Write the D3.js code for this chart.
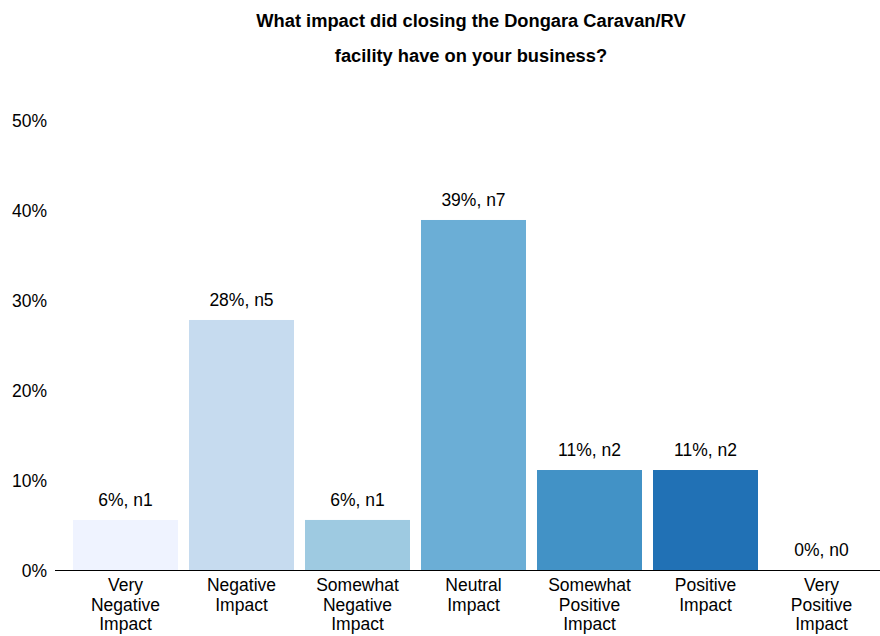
<!DOCTYPE html>
<html>
<head>
<meta charset="utf-8">
<script src="https://cdn.jsdelivr.net/npm/d3@7"></script>
<style>
  html, body { margin: 0; padding: 0; background: #fff; }
  svg { display: block; font-family: "Liberation Sans", Helvetica, Arial, sans-serif; }
</style>
</head>
<body>
<svg id="chart" width="880" height="636"></svg>
<script>
// Survey responses (n = 18)
const categories = [
  ["Very", "Negative", "Impact"],
  ["Negative", "Impact"],
  ["Somewhat", "Negative", "Impact"],
  ["Neutral", "Impact"],
  ["Somewhat", "Positive", "Impact"],
  ["Positive", "Impact"],
  ["Very", "Positive", "Impact"]
];
const counts = [1, 5, 1, 7, 2, 2, 0];
const percents = [5.56, 27.78, 5.56, 38.89, 11.11, 11.11, 0];
const colors = ["#eff3ff", "#c6dbef", "#9ecae1", "#6baed6", "#4292c6", "#2171b5", "#084594"];
const yTicks = [0, 10, 20, 30, 40, 50];
const titleLines = ["What impact did closing the Dongara Caravan/RV", "facility have on your business?"];

const svg = d3.select("#chart");
const W = 880, H = 636;
const baseY = 570, topY = 120;
const FONT = 17.5;

const keys = categories.map((c, i) => i);
const x = d3.scaleBand()
  .domain(keys)
  .range([67.5, 879.5])
  .paddingInner(11 / 116)
  .paddingOuter(5.5 / 116);

const y = d3.scaleLinear().domain([0, 50]).range([baseY, topY]);

// Title
svg.append("g")
  .selectAll("text")
  .data(titleLines)
  .join("text")
  .attr("x", 471)
  .attr("y", (d, i) => 26.5 + i * 35)
  .attr("text-anchor", "middle")
  .attr("font-size", 18.3)
  .attr("font-weight", "bold")
  .attr("fill", "#000")
  .text(d => d);

// Y axis labels
const yAxis = d3.axisLeft(y).tickValues(yTicks).tickSize(0).tickPadding(0)
  .tickFormat(d => d + "%");
const gy = svg.append("g").attr("transform", "translate(47,0)").call(yAxis);
gy.select(".domain").remove();
gy.selectAll("text")
  .attr("font-size", FONT)
  .attr("font-family", "Liberation Sans, Helvetica, Arial, sans-serif")
  .attr("fill", "#000")
  .attr("dy", "0.35em");

// Bars
svg.append("g")
  .selectAll("rect")
  .data(percents)
  .join("rect")
  .attr("x", (d, i) => x(i))
  .attr("y", d => y(d))
  .attr("width", x.bandwidth())
  .attr("height", d => baseY - y(d))
  .attr("fill", (d, i) => colors[i]);

// Value labels
svg.append("g")
  .selectAll("text")
  .data(percents)
  .join("text")
  .attr("x", (d, i) => x(i) + x.bandwidth() / 2)
  .attr("y", d => y(d) - 14)
  .attr("text-anchor", "middle")
  .attr("font-size", FONT)
  .attr("fill", "#000")
  .text((d, i) => Math.round(d) + "%, n" + counts[i]);

// Baseline
svg.append("line")
  .attr("x1", 55).attr("x2", W)
  .attr("y1", baseY + 0.5).attr("y2", baseY + 0.5)
  .attr("stroke", "#000").attr("stroke-width", 1);

// Category labels
const xAxis = d3.axisBottom(x).tickSize(0).tickFormat("");
const gx = svg.append("g").attr("transform", `translate(0,${baseY})`).call(xAxis);
gx.select(".domain").remove();
gx.selectAll(".tick").each(function(d) {
  const t = d3.select(this).append("text")
    .attr("text-anchor", "middle")
    .attr("font-size", FONT)
    .attr("font-family", "Liberation Sans, Helvetica, Arial, sans-serif")
    .attr("fill", "#000");
  categories[d].forEach((line, j) => {
    t.append("tspan").attr("x", 0).attr("y", 21 + j * 19.5).text(line);
  });
});
</script>
</body>
</html>
